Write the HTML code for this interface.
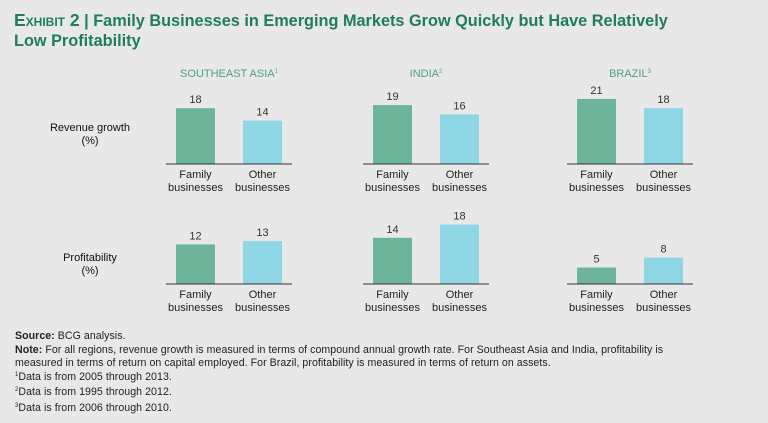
<!DOCTYPE html>
<html><head><meta charset="utf-8"><style>
body{margin:0;background:#e8e8e9;font-family:"Liberation Sans",sans-serif;}
#wrap{position:relative;width:768px;height:423px;overflow:hidden;background:#e8e8e9}
.title{position:absolute;left:14px;top:10px;font-weight:bold;font-size:16.3px;line-height:20px;color:#1f7d58}
.notes{position:absolute;left:15px;top:330px;font-size:10.6px;line-height:13.6px;color:#222;letter-spacing:0.05px}
.notes sup{font-size:6px;vertical-align:0;position:relative;top:-4px}
</style></head><body>
<div id="wrap">
<div class="title"><span style="font-variant:small-caps;font-size:17.5px">Exhibit 2</span> | Family Businesses in Emerging Markets Grow Quickly but Have Relatively<br>Low Profitability</div>
<svg id="chart" width="768" height="330" style="position:absolute;left:0;top:0"></svg>
<div class="notes">
<b>Source:</b> BCG analysis.<br>
<b>Note:</b> For all regions, revenue growth is measured in terms of compound annual growth rate. For Southeast Asia and India, profitability is<br>measured in terms of return on capital employed. For Brazil, profitability is measured in terms of return on assets.<br>
<sup>1</sup>Data is from 2005 through 2013.<br>
<sup>2</sup>Data is from 1995 through 2012.<br>
<sup>3</sup>Data is from 2006 through 2010.
</div>
</div>
<script>
const regions=["SOUTHEAST ASIA","INDIA","BRAZIL"];
const regionSup=["1","2","3"];
const categories=["Family","Other"];
const revenueFamily=[18,19,21];
const revenueOther=[14,16,18];
const profitFamily=[12,14,5];
const profitOther=[13,18,8];
const rowLabels=["Revenue growth","Profitability"];

const svg=document.getElementById('chart');
const NS="http://www.w3.org/2000/svg";
const panelX=[166,363,567], panelW=126;
const rows=[{base:164,scale:3.1,fam:revenueFamily,oth:revenueOther,ly:127},
            {base:284,scale:3.3,fam:profitFamily,oth:profitOther,ly:257}];
function yScale(row,v){return row.base-v*row.scale;}
function mk(tag,attrs,text){const e=document.createElementNS(NS,tag);for(const k in attrs)e.setAttribute(k,attrs[k]);if(text!==undefined)e.textContent=text;svg.appendChild(e);return e;}
regions.forEach((r,i)=>{
  const t=mk('text',{x:panelX[i]+panelW/2,y:77,'text-anchor':'middle','font-size':11,fill:'#4e9f83'});
  t.textContent=r;
  const s=document.createElementNS(NS,'tspan');s.setAttribute('font-size',6);s.setAttribute('dy',-4);s.textContent=regionSup[i];t.appendChild(s);
  
  
});
rows.forEach((row,ri)=>{
  const l1=mk('text',{x:90,y:row.ly+4,'text-anchor':'middle','font-size':11,fill:'#111'},rowLabels[ri]);
  
  
  const l2=mk('text',{x:90,y:row.ly+17,'text-anchor':'middle','font-size':11,fill:'#111'},"(%)");
  
  
  regions.forEach((r,i)=>{
    const x0=panelX[i];
    [[row.fam[i],'#6cb59b',10,categories[0]],[row.oth[i],'#8fd6e5',77,categories[1]]].forEach(([v,c,off,cat])=>{
      const y=yScale(row,v);
      const b=mk('rect',{x:x0+off,y:y,width:39,height:row.base-y,fill:c});
      
      
      const vl=mk('text',{x:x0+off+19.5,y:y-5,'text-anchor':'middle','font-size':11,fill:'#333'},v);
      
      
      const c1=mk('text',{x:x0+off+19.5,y:row.base+14,'text-anchor':'middle','font-size':11,fill:'#222'},cat);
      
      
      const c2=mk('text',{x:x0+off+19.5,y:row.base+27,'text-anchor':'middle','font-size':11,fill:'#222'},"businesses");
      
      
    });
    const ax=mk('line',{x1:x0,x2:x0+panelW,y1:row.base,y2:row.base,stroke:'#333','stroke-width':1});
    
    
  });
});
</script>
</body></html>
